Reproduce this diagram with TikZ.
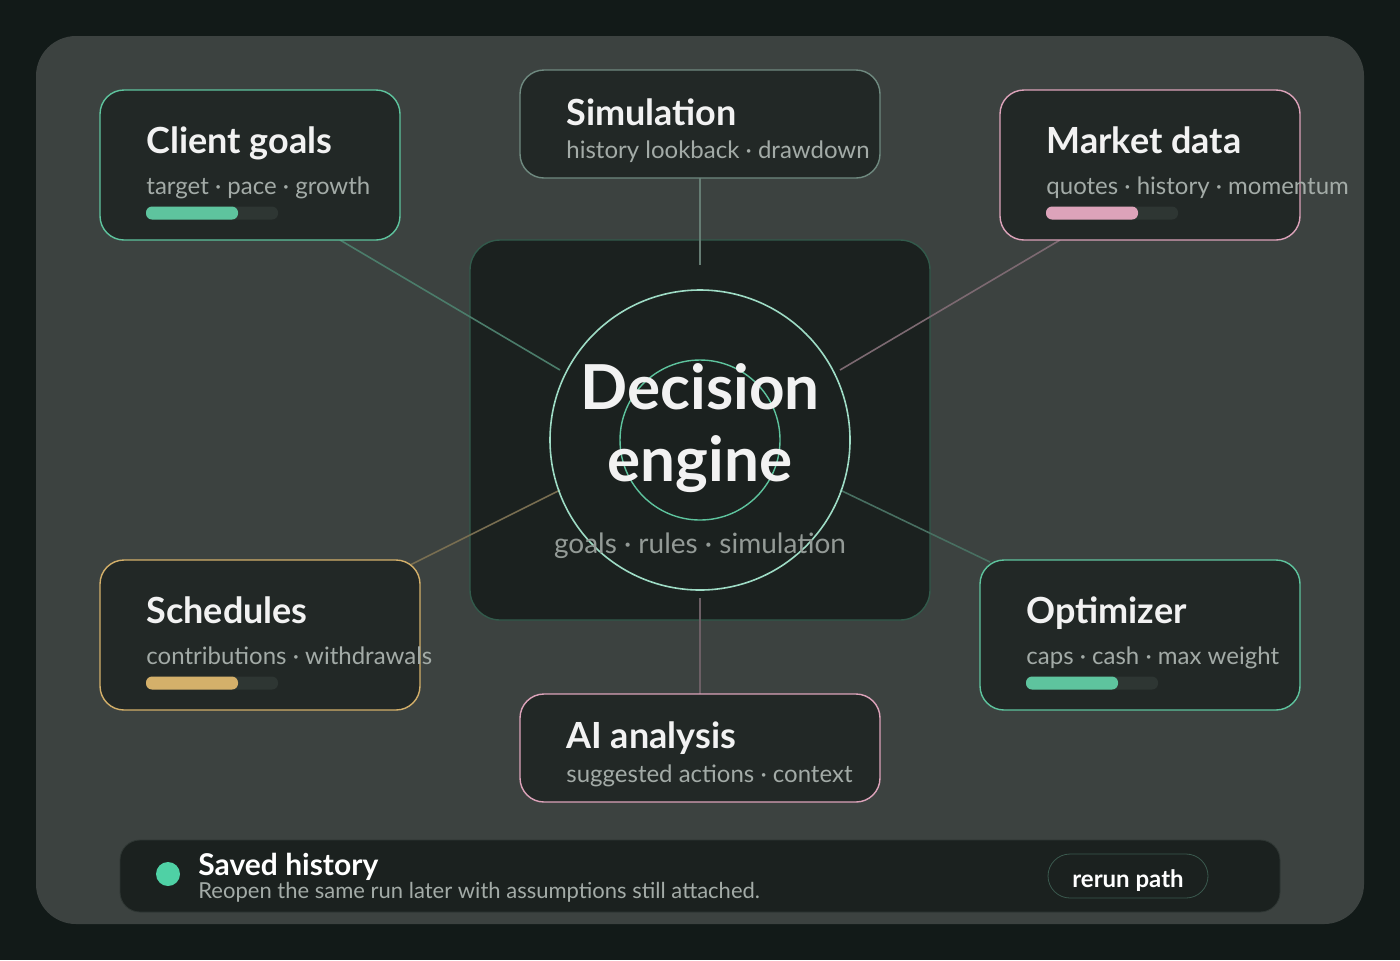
\documentclass[tikz,border=0pt]{standalone}
\usepackage{fontspec}
\setmainfont{Lato}
\definecolor{bgc}{HTML}{121A18}
\definecolor{panelc}{HTML}{3C4240}
\definecolor{cardc}{HTML}{222826}
\definecolor{corec}{HTML}{1B211F}
\definecolor{tealc}{HTML}{5EC49E}
\definecolor{pinkc}{HTML}{DDA3BA}
\definecolor{goldc}{HTML}{D4B06A}
\definecolor{simc}{HTML}{6F8A80}
\definecolor{subc}{HTML}{A3ABA7}
\definecolor{trackc}{HTML}{2E3633}
\definecolor{dotc}{HTML}{4FD1A5}
\begin{document}
\begin{tikzpicture}[x=0.5pt,y=-0.5pt]
	\tikzset{card/.style={fill=cardc, rounded corners=12pt, line width=0.7pt},
		title/.style={anchor=base west, text=white!95!black, font=\fontsize{18}{20}\selectfont\bfseries, inner sep=0pt},
		sub/.style={anchor=base west, text=subc, font=\fontsize{12}{14}\selectfont, inner sep=0pt},
		link/.style={line width=0.8pt}};
	\fill[bgc] (0,0) rectangle (1400,960);
	\fill[panelc, rounded corners=20pt] (36,36) rectangle (1364,924);
	% links
	\coordinate (cgE) at (340,240);   \coordinate (cgC) at (560,370);
	\coordinate (smE) at (700,178);   \coordinate (smC) at (700,265);
	\coordinate (mdE) at (1060,240);  \coordinate (mdC) at (840,370);
	\coordinate (scE) at (410,565);   \coordinate (scC) at (560,490);
	\coordinate (opE) at (990,562);   \coordinate (opC) at (840,490);
	\coordinate (aiE) at (700,694);   \coordinate (aiC) at (700,598);
	% center
	\draw[fill=corec, draw=tealc!35!corec, rounded corners=15pt, line width=0.7pt] (470,240) rectangle (930,620);
	\draw[link, tealc!45!panelc] (cgE) -- (cgC);
	\draw[link, simc!80!panelc] (smE) -- (smC);
	\draw[link, pinkc!40!panelc] (mdE) -- (mdC);
	\draw[link, goldc!40!panelc] (scE) -- (scC);
	\draw[link, tealc!35!panelc] (opE) -- (opC);
	\draw[link, pinkc!30!panelc] (aiE) -- (aiC);
	\node[circle, draw=tealc!60!white, line width=0.8pt, minimum size=150pt] (ring) at (700,440) {};
	\node[circle, draw=tealc, line width=0.7pt, minimum size=80pt] (core) at (700,440) {};
	\node[text=white!95!black, font=\fontsize{31}{36}\selectfont\bfseries, align=center, inner sep=0pt] (dec) at (700,428) {Decision\\engine};
	\node[anchor=base, text=subc!90!black, font=\fontsize{14}{16}\selectfont, inner sep=0pt] (decs) at (700,553) {goals · rules · simulation};
	% cards
	\draw[card, draw=tealc] (100,90) rectangle (400,240);
	\node[title] (cgT) at (146,153) {Client goals};
	\node[sub] (cgS) at (146,194) {target · pace · growth};
	\draw[card, draw=simc] (520,70) rectangle (880,178);
	\node[title] (smT) at (566,125) {Simulation};
	\node[sub] (smS) at (566,158) {history lookback · drawdown};
	\draw[card, draw=pinkc] (1000,90) rectangle (1300,240);
	\node[title] (mdT) at (1046,153) {Market data};
	\node[sub] (mdS) at (1046,194) {quotes · history · momentum};
	\draw[card, draw=goldc] (100,560) rectangle (420,710);
	\node[title] (scT) at (146,623) {Schedules};
	\node[sub] (scS) at (146,664) {contributions · withdrawals};
	\draw[card, draw=tealc] (980,560) rectangle (1300,710);
	\node[title] (opT) at (1026,623) {Optimizer};
	\node[sub] (opS) at (1026,664) {caps · cash · max weight};
	\draw[card, draw=pinkc] (520,694) rectangle (880,802);
	\node[title] (aiT) at (566,748) {AI analysis};
	\node[sub] (aiS) at (566,782) {suggested actions · context};
	% bars
	\foreach \x/\y/\c in {146/213/tealc, 1046/213/pinkc, 146/683/goldc, 1026/683/tealc}{
		\fill[trackc, rounded corners=3pt] (\x,\y-6.5) rectangle (\x+132,\y+6.5);
		\fill[\c, rounded corners=3pt] (\x,\y-6.5) rectangle (\x+92,\y+6.5);
	}
	% footer
	\draw[fill=corec, draw=trackc, rounded corners=10pt] (120,840) rectangle (1280,912);
	\fill[dotc] (168,874) circle (6pt);
	\node[anchor=base west, text=white, font=\fontsize{15}{17}\selectfont\bfseries, inner sep=0pt] (svT) at (198,875) {Saved history};
	\node[anchor=base west, text=subc, font=\fontsize{11}{13}\selectfont, inner sep=0pt] (svS) at (198,898) {Reopen the same run later with assumptions still attached.};
	\draw[fill=corec, draw=tealc!25!trackc, rounded corners=11pt] (1048,854) rectangle (1208,898);
	\node[text=white, font=\fontsize{12}{14}\selectfont\bfseries] (rr) at (1128,881) {rerun path};
\end{tikzpicture}
\end{document}
